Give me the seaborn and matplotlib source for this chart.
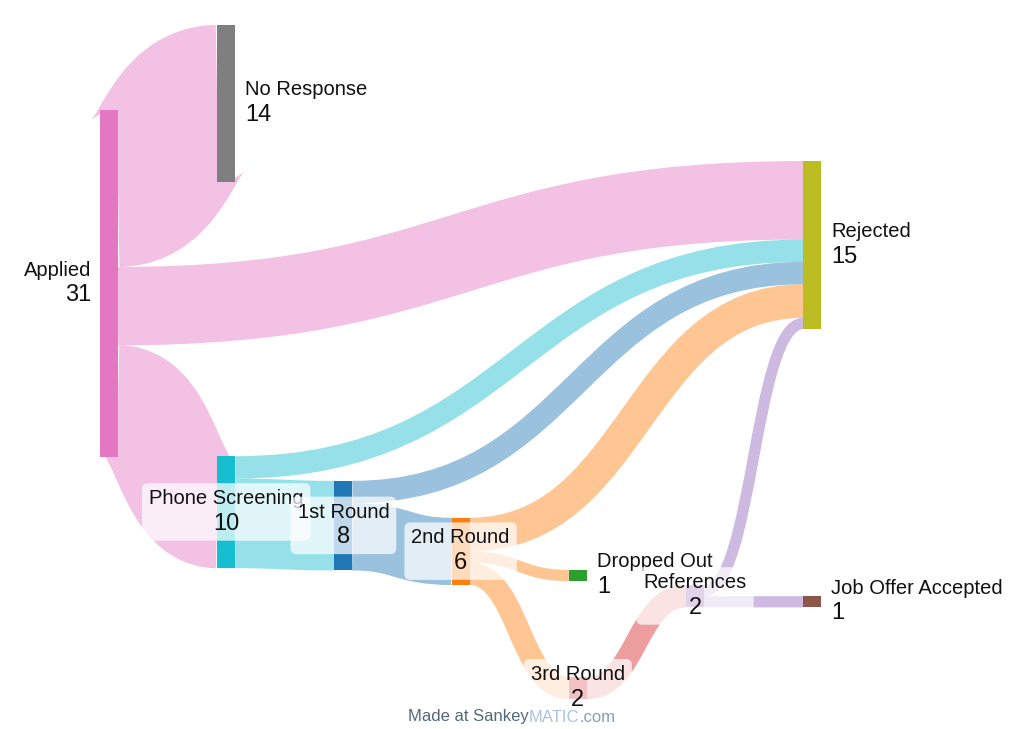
import seaborn as sns
import matplotlib.pyplot as plt
from matplotlib.path import Path
from matplotlib.patches import PathPatch, FancyBboxPatch
from matplotlib.transforms import Bbox, IdentityTransform

sns.set_theme(style="white")
plt.rcParams['font.family'] = ['Liberation Sans', 'DejaVu Sans']

# Job search funnel
nodes = ["Applied", "No Response", "Rejected", "Phone Screening", "1st Round",
         "2nd Round", "Dropped Out", "3rd Round", "References", "Job Offer Accepted"]
sources = ["Applied", "Applied", "Applied", "Phone Screening", "Phone Screening",
           "1st Round", "1st Round", "2nd Round", "2nd Round", "2nd Round",
           "3rd Round", "References", "References"]
targets = ["No Response", "Rejected", "Phone Screening", "Rejected", "1st Round",
           "Rejected", "2nd Round", "Rejected", "Dropped Out", "3rd Round",
           "References", "Rejected", "Job Offer Accepted"]
values = [14, 7, 10, 2, 8, 2, 6, 3, 1, 2, 2, 1, 1]

# layout: column of each node and its top edge (in flow units)
node_column = [0, 1, 6, 1, 2, 3, 4, 4, 5, 6]
node_top = [7.6, 0.0, 12.15, 38.5, 40.7, 44.0, 48.65, 58.2, 50.0, 51.0]

palette = sns.color_palette("tab10")
node_colors = [palette[k] for k in [6, 7, 8, 9, 0, 1, 2, 3, 4, 5]]

W, H = 1024, 729
COL_PX = 117.2      # pixels between columns
UNIT_PX = 11.2      # pixels per flow unit
LEFT_PX, TOP_PX = 100, 25
NODE_W = 18 / COL_PX

fig = plt.figure(figsize=(W / 100, H / 100), dpi=100)
ax = fig.add_axes([0, 0, 1, 1])
ax.set_xlim(-LEFT_PX / COL_PX, (W - LEFT_PX) / COL_PX)
ax.set_ylim((H - TOP_PX) / UNIT_PX, -TOP_PX / UNIT_PX)
ax.axis('off')

idx = {n: i for i, n in enumerate(nodes)}
size = {}
for n in nodes:
    vin = sum(v for t, v in zip(targets, values) if t == n)
    vout = sum(v for s, v in zip(sources, values) if s == n)
    size[n] = max(vin, vout)

# stroke width of one flow unit, in points
p0 = ax.transData.transform((0, 0))
p1 = ax.transData.transform((0, 1))
pts_per_unit = abs(p1[1] - p0[1]) * 72 / fig.dpi

out_off = {n: 0 for n in nodes}
in_off = {n: 0 for n in nodes}
for s, t, v in zip(sources, targets, values):
    i, j = idx[s], idx[t]
    x0 = node_column[i] + NODE_W
    x1 = node_column[j]
    y0 = node_top[i] + out_off[s] + v / 2
    y1 = node_top[j] + in_off[t] + v / 2
    out_off[s] += v
    in_off[t] += v
    xm = (x0 + x1) / 2
    path = Path([(x0, y0), (xm, y0), (xm, y1), (x1, y1)],
                [Path.MOVETO, Path.CURVE4, Path.CURVE4, Path.CURVE4])
    ax.add_patch(PathPatch(path, fill=False, edgecolor=node_colors[i], alpha=0.45,
                           lw=v * pts_per_unit, capstyle='butt', zorder=1))

ax.bar([node_column[idx[n]] for n in nodes], [size[n] for n in nodes],
       bottom=node_top, width=NODE_W, align='edge', color=node_colors,
       linewidth=0, zorder=2)

fig.canvas.draw()
renderer = fig.canvas.get_renderer()

z = 3
for i, n in enumerate(nodes):
    cy = node_top[i] + size[n] / 2
    if n not in targets:
        x, ha = node_column[i] - 9 / COL_PX, 'right'
    elif n not in sources:
        x, ha = node_column[i] + NODE_W + 10 / COL_PX, 'left'
    else:
        x, ha = node_column[i] + NODE_W / 2, 'center'
    t1 = ax.text(x, cy - 13.5 / UNIT_PX, n, ha=ha, va='center', fontsize=14.5,
                 color='#111111', zorder=z + 1)
    t2 = ax.text(x, cy + 11.5 / UNIT_PX, str(size[n]), ha=ha, va='center',
                 fontsize=17, color='#111111', zorder=z + 1)
    if ha == 'center':
        bb = Bbox.union([t1.get_window_extent(renderer), t2.get_window_extent(renderer)])
        ax.add_patch(FancyBboxPatch((bb.x0 - 7, bb.y0 - 6), bb.width + 14, bb.height + 12,
                                    boxstyle='round,pad=0,rounding_size=6',
                                    transform=IdentityTransform(), fc='white',
                                    ec='none', alpha=0.72, zorder=z))
    z += 2

# footer
parts = [("Made at Sankey", "#52697d"), ("MATIC", "#aac4dc"), (".com", "#7f9fbd")]
ftexts = [fig.text(0, 1 - 717 / H, s, color=c, fontsize=12, va='center') for s, c in parts]
widths = [t.get_window_extent(renderer).width for t in ftexts]
xpos = W / 2 - sum(widths) / 2
for t, w in zip(ftexts, widths):
    t.set_x(xpos / W)
    xpos += w

fig.savefig("out.png", dpi=100)
